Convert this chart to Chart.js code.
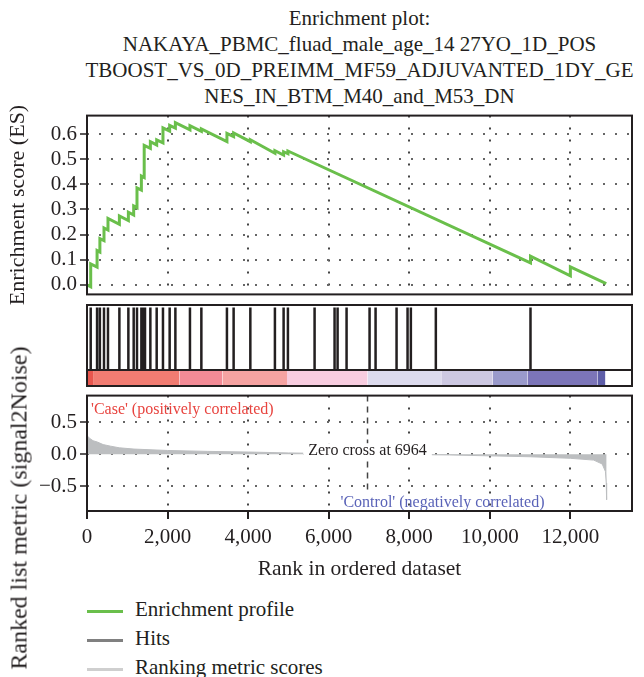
<!DOCTYPE html>
<html>
<head>
<meta charset="utf-8">
<script src="https://cdn.jsdelivr.net/npm/chart.js@4.4.0/dist/chart.umd.min.js"></script>
<style>
  body { margin: 0; background: #fff; font-family: "Liberation Serif", serif; color: #231f20; }
  #wrap { position: relative; width: 644px; height: 677px; overflow: hidden; }
  canvas { position: absolute; left: 0; }
  #title { position: absolute; left: 80px; width: 559px; top: 5px; text-align: center; font-size: 21px; line-height: 26px; }
  #ylab2 { position: absolute; left: 19px; top: 508px; font-size: 24px; white-space: nowrap;
           transform: translate(-50%, -50%) rotate(-90deg); }
  #legend { position: absolute; left: 87px; top: 595px; font-size: 21px; }
  .item { height: 29px; line-height: 29px; white-space: nowrap; }
  .sw { display: inline-block; width: 36px; height: 3px; vertical-align: middle; margin-right: 12px; }
</style>
</head>
<body>
<div id="wrap">
  <div id="title">Enrichment plot:<br>NAKAYA_PBMC_fluad_male_age_14 27YO_1D_POS<br>TBOOST_VS_0D_PREIMM_MF59_ADJUVANTED_1DY_GE<br>NES_IN_BTM_M40_and_M53_DN</div>
  <canvas id="esChart" width="644" height="210" style="top:100px"></canvas>
  <canvas id="hitsChart" width="644" height="75" style="top:300px"></canvas>
  <canvas id="barChart" width="644" height="26" style="top:365px"></canvas>
  <canvas id="metricChart" width="644" height="206" style="top:380px"></canvas>
  <div id="ylab2">Ranked list metric (signal2Noise)</div>
  <div id="legend"></div>
</div>

<script>
  // ticks
  var xTicks = [0, 2000, 4000, 6000, 8000, 10000, 12000];
  var esTicks = [0, 0.1, 0.2, 0.3, 0.4, 0.5, 0.6];
  var metricTicks = [-0.5, 0, 0.5];

  // running enrichment score (vertices)
  var esRank  = [0, 92, 92, 250, 250, 320, 320, 422, 422, 521, 521, 804, 804, 1027, 1027, 1159, 1159,
                 1241, 1241, 1350, 1350, 1420, 1420, 1573, 1573, 1730, 1730, 1886, 1886, 2052, 2052,
                 2194, 2194, 2556, 2556, 2839, 2839, 3474, 3474, 3640, 3640, 4055, 4055, 4665, 4665,
                 4881, 4881, 4988, 4988, 11010, 11010, 12000, 12000, 12890];
  var esValue = [0, -0.008, 0.083, 0.070, 0.136, 0.130, 0.184, 0.176, 0.226, 0.218, 0.264, 0.241, 0.274,
                 0.256, 0.289, 0.278, 0.314, 0.307, 0.386, 0.377, 0.433, 0.427, 0.555, 0.543, 0.570,
                 0.557, 0.577, 0.565, 0.625, 0.612, 0.635, 0.624, 0.646, 0.617, 0.634, 0.611, 0.621,
                 0.570, 0.603, 0.590, 0.605, 0.570, 0.578, 0.524, 0.534, 0.517, 0.530, 0.522, 0.533,
                 0.087, 0.114, 0.035, 0.071, 0.004];

  // gene set hits (rank positions)
  var hitRanks = [92, 250, 320, 422, 521, 804, 1027, 1159, 1241, 1350, 1400, 1440, 1573, 1730, 1886,
                  2052, 2194, 2556, 2839, 3474, 3640, 4055, 4665, 4881, 4988, 5650, 6146, 6221, 6444,
                  7015, 7164, 7685, 7958, 8040, 8660, 11010];

  // ranked list metric
  var metricRank  = [0, 60, 150, 257, 400, 588, 800, 1167, 2000, 3000, 4000, 5000, 6000, 6964,
                     8000, 9000, 10000, 11000, 12000, 12580, 12790, 12870, 12890, 12900];
  var metricValue = [0.29, 0.25, 0.21, 0.19, 0.15, 0.125, 0.10, 0.08, 0.058, 0.044, 0.034, 0.02, 0.01, 0,
                     -0.005, -0.012, -0.026, -0.04, -0.064, -0.092, -0.153, -0.27, -0.45, -0.71];
  var zeroCross = 6964;

  // colour bar segments (rank ranges)
  var barStart = [0, 150, 2293, 3362, 4965, 6965, 8794, 10067, 10935, 12672];
  var barEnd   = [150, 2293, 3362, 4965, 6965, 8794, 10067, 10935, 12672, 12870];
  var barColors = ['#e8564e', '#f17c72', '#f38b96', '#f6a3a2', '#f8cde0', '#dddbee',
                   '#cdc8e2', '#9a9acb', '#7c75b8', '#5e5ea8'];

  var legendLabels = ['Enrichment profile', 'Hits', 'Ranking metric scores'];
  var legendColors = ['#6abf4b', '#808080', '#cfcfcf'];

  var FONT = 'Liberation Serif';
  var INK = '#231f20';
  var XMAX = 13530;
  var DOTS = [2, 10];

  var fixTicks = function (arr) {
    return function (s) { s.ticks = arr.map(function (v) { return { value: v }; }); };
  };

  // frame round the plot area
  var frame = {
    id: 'frame',
    afterDraw: function (chart) {
      var a = chart.chartArea, ctx = chart.ctx;
      ctx.save();
      ctx.strokeStyle = INK;
      ctx.lineWidth = 2;
      ctx.strokeRect(a.left, a.top, a.right - a.left, a.bottom - a.top);
      ctx.restore();
    }
  };

  // texts inside the metric panel
  var notes = {
    id: 'notes',
    afterDatasetsDraw: function (chart) {
      var ctx = chart.ctx, a = chart.chartArea, x = chart.scales.x, y = chart.scales.y;
      ctx.save();
      ctx.font = '16px "' + FONT + '"';
      ctx.textBaseline = 'middle';
      ctx.textAlign = 'left';
      ctx.fillStyle = '#e8443f';
      ctx.fillText("'Case' (positively correlated)", a.left + 4, a.top + 14);

      var label = 'Zero cross at ' + zeroCross;
      var w = ctx.measureText(label).width;
      var cx = x.getPixelForValue(zeroCross), cy = y.getPixelForValue(0) - 3;
      ctx.fillStyle = '#fff';
      ctx.fillRect(cx - w / 2 - 5, cy - 8, w + 10, 17);
      ctx.fillStyle = INK;
      ctx.textAlign = 'center';
      ctx.fillText(label, cx, cy);

      ctx.fillStyle = '#5a63b8';
      ctx.fillText("'Control' (negatively correlated)", x.getPixelForValue(8826), a.bottom - 8);
      ctx.restore();
    }
  };

  var hiddenX = { type: 'linear', min: 0, max: XMAX, display: false };

  // Enrichment score panel
  new Chart(document.getElementById('esChart'), {
    type: 'scatter',
    data: {
      datasets: [{
        data: esRank.map(function (r, i) { return { x: r, y: esValue[i] }; }),
        showLine: true,
        borderColor: '#6abf4b',
        borderWidth: 3,
        pointRadius: 0,
        tension: 0
      }]
    },
    options: {
      responsive: false,
      animation: false,
      layout: { padding: { top: 15, right: 12, bottom: 5, left: 0 } },
      plugins: { legend: { display: false }, tooltip: { enabled: false } },
      scales: {
        x: {
          type: 'linear', min: 0, max: XMAX,
          afterBuildTicks: fixTicks(xTicks),
          afterFit: function (s) { s.height = 0; },
          ticks: { display: false },
          grid: { drawTicks: false, color: '#444', lineWidth: 2 },
          border: { display: false, dash: DOTS }
        },
        y: {
          min: -0.0386, max: 0.674,
          afterBuildTicks: fixTicks(esTicks),
          afterFit: function (s) { s.width = 87; },
          ticks: { color: INK, padding: 3, font: { family: FONT, size: 21 },
                   callback: function (v) { return v.toFixed(1); } },
          grid: { color: '#666', lineWidth: 2, tickLength: 7, tickColor: INK, tickWidth: 1.5, tickBorderDash: [] },
          border: { display: false, dash: DOTS },
          title: { display: true, text: 'Enrichment score (ES)', color: INK, font: { family: FONT, size: 22 },
                   padding: { top: 5, bottom: 0 } }
        }
      }
    },
    plugins: [frame]
  });

  // Hits panel
  var hitLines = function () {
    var pts = [];
    hitRanks.forEach(function (h) {
      pts.push({ x: h, y: 0 }, { x: h, y: 1 }, { x: h, y: null });
    });
    return pts;
  };

  new Chart(document.getElementById('hitsChart'), {
    type: 'scatter',
    data: {
      datasets: [{
        data: hitLines(), showLine: true, spanGaps: false,
        borderColor: INK, borderWidth: 2.5, pointRadius: 0
      }]
    },
    options: {
      responsive: false,
      animation: false,
      layout: { padding: { top: 5, right: 12, bottom: 5, left: 87 } },
      plugins: { legend: { display: false }, tooltip: { enabled: false } },
      scales: { x: hiddenX, y: { min: 0, max: 1.04, display: false } }
    },
    plugins: [frame]
  });

  // Colour bar
  var barSets = barStart.map(function (s, i) {
    return {
      data: [{ x: s, y: 1 }, { x: barEnd[i], y: 1 }],
      showLine: true, fill: 'origin', borderWidth: 0, pointRadius: 0,
      borderColor: barColors[i], backgroundColor: barColors[i]
    };
  });
  barSets.push({
    data: hitLines(), showLine: true, spanGaps: false,
    borderColor: 'rgba(70,70,70,0.22)', borderWidth: 2.5, pointRadius: 0
  });

  new Chart(document.getElementById('barChart'), {
    type: 'scatter',
    data: { datasets: barSets },
    options: {
      responsive: false,
      animation: false,
      layout: { padding: { top: 5, right: 12, bottom: 5, left: 87 } },
      plugins: { legend: { display: false }, tooltip: { enabled: false } },
      scales: { x: hiddenX, y: { min: 0, max: 1, display: false } }
    },
    plugins: [frame]
  });

  // Ranked list metric panel
  new Chart(document.getElementById('metricChart'), {
    type: 'scatter',
    data: {
      datasets: [{
        data: metricRank.map(function (r, i) { return { x: r, y: metricValue[i] }; }),
        showLine: true, fill: 'origin', pointRadius: 0,
        borderColor: '#bcbec0', backgroundColor: '#bcbec0', borderWidth: 1
      }, {
        data: [{ x: zeroCross, y: 0.914 }, { x: zeroCross, y: -0.6 }],
        showLine: true, pointRadius: 0, borderColor: '#444', borderWidth: 1.5, borderDash: [6, 5]
      }]
    },
    options: {
      responsive: false,
      animation: false,
      layout: { padding: { top: 6, right: 12, bottom: 0, left: 0 } },
      plugins: { legend: { display: false }, tooltip: { enabled: false } },
      scales: {
        x: {
          type: 'linear', min: 0, max: XMAX,
          afterBuildTicks: fixTicks(xTicks),
          ticks: { color: INK, padding: 6, maxRotation: 0, font: { family: FONT, size: 21 },
                   callback: function (v) { return v.toLocaleString('en-US'); } },
          grid: { color: '#444', lineWidth: 2, tickLength: 8, tickColor: INK, tickWidth: 2, tickBorderDash: [] },
          border: { display: false, dash: DOTS },
          title: { display: true, text: 'Rank in ordered dataset', color: INK, font: { family: FONT, size: 21.5 },
                   padding: { top: 0, bottom: 4 } }
        },
        y: {
          min: -0.886, max: 0.914,
          afterBuildTicks: fixTicks(metricTicks),
          afterFit: function (s) { s.width = 87; },
          ticks: { color: INK, padding: 3, font: { family: FONT, size: 21 },
                   callback: function (v) { return v < 0 ? '\u2212' + Math.abs(v).toFixed(1) : v.toFixed(1); } },
          grid: { color: '#666', lineWidth: 2, tickLength: 7, tickColor: INK, tickWidth: 1.5, tickBorderDash: [] },
          border: { display: false, dash: DOTS }
        }
      }
    },
    plugins: [notes, frame]
  });

  // legend
  var legend = document.getElementById('legend');
  legendLabels.forEach(function (t, i) {
    var row = document.createElement('div');
    row.className = 'item';
    var sw = document.createElement('span');
    sw.className = 'sw';
    sw.style.background = legendColors[i];
    row.appendChild(sw);
    row.appendChild(document.createTextNode(t));
    legend.appendChild(row);
  });
</script>
</body>
</html>
